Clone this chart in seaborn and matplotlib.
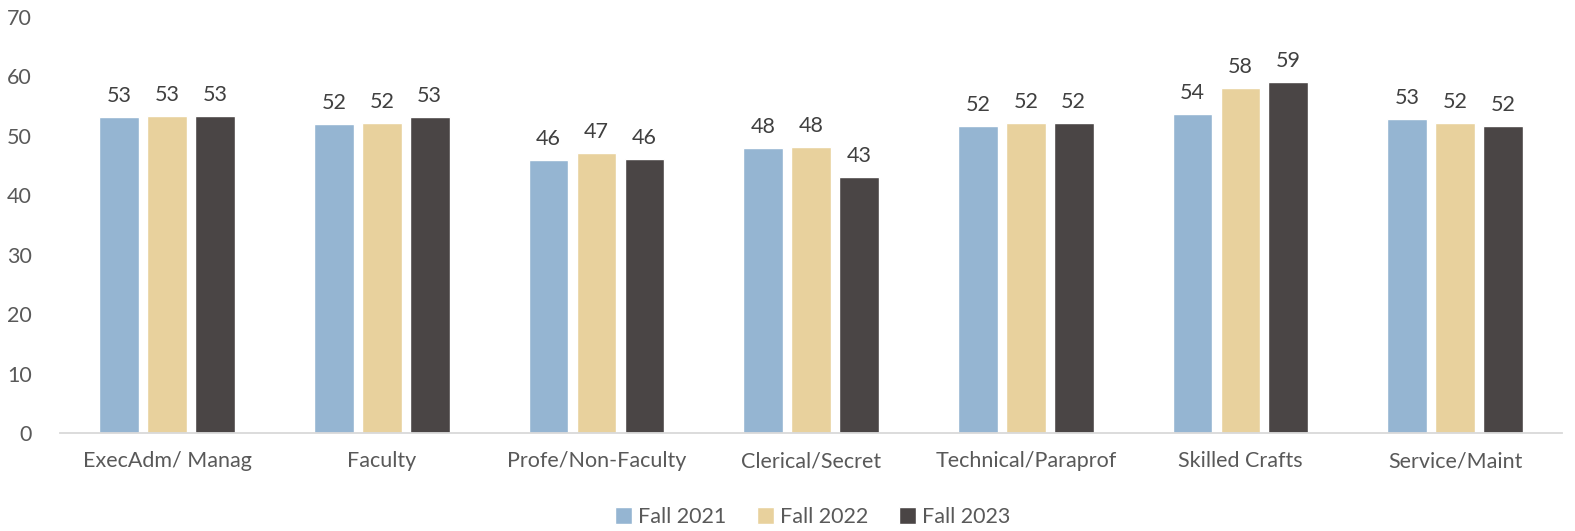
import pandas as pd
import matplotlib
matplotlib.use("Agg")
import matplotlib.pyplot as plt
import seaborn as sns

categories = ["ExecAdm/ Manag", "Faculty", "Profe/Non-Faculty", "Clerical/Secret",
              "Technical/Paraprof", "Skilled Crafts", "Service/Maint"]
years = ["Fall 2021", "Fall 2022", "Fall 2023"]
fall_2021 = [53.2, 52.0, 46.0, 48.0, 51.6, 53.6, 52.9]
fall_2022 = [53.4, 52.2, 47.1, 48.1, 52.2, 58.1, 52.1]
fall_2023 = [53.4, 53.2, 46.1, 43.0, 52.2, 59.1, 51.6]
colors = ["#95B5D2", "#E8D19D", "#4A4545"]

df = pd.DataFrame({
    "category": categories * 3,
    "year": [y for y in years for _ in categories],
    "value": fall_2021 + fall_2022 + fall_2023,
})

sns.set_style("white")
plt.rcParams["font.family"] = ["Lato", "DejaVu Sans"]

fig = plt.figure(figsize=(15.75, 5.31), dpi=100)
ax = fig.add_axes([0.038, 0.1846, 0.954, 0.7834])

sns.barplot(data=df, x="category", y="value", hue="year", palette=colors,
            width=0.67, gap=0.17, saturation=1, ax=ax, legend=True)

for cont in ax.containers:
    ax.bar_label(cont, fmt="%.0f", padding=8, fontsize=15.5, color="#404040")

ax.set_ylim(0, 70)
ax.set_yticks(range(0, 71, 10))
ax.set_xlabel("")
ax.set_ylabel("")
ax.tick_params(axis="both", length=0, labelsize=15.5, labelcolor="#595959")
ax.tick_params(axis="x", pad=13)
ax.tick_params(axis="y", pad=20)
for s in ["top", "right", "left"]:
    ax.spines[s].set_visible(False)
ax.spines["bottom"].set_color("#D9D9D9")
ax.spines["bottom"].set_linewidth(1.3)

handles, labels = ax.get_legend_handles_labels()
ax.legend_.remove()
leg = fig.legend(handles, labels, loc="center", bbox_to_anchor=(0.516, 0.026),
                 ncol=3, frameon=False, fontsize=15.5, handlelength=0.8,
                 handleheight=0.8, handletextpad=0.3, columnspacing=1.4)
for t in leg.get_texts():
    t.set_color("#595959")

fig.savefig("out.png", dpi=100)
